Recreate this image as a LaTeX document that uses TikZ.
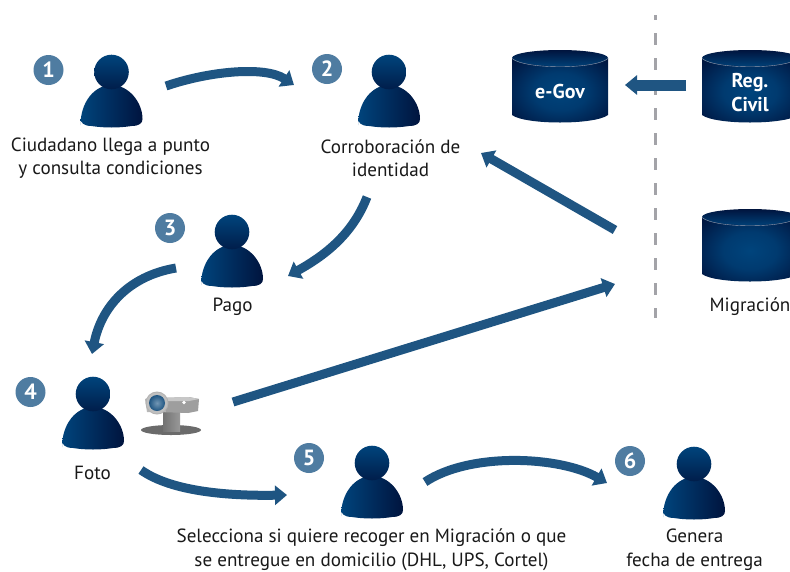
\documentclass[tikz,border=0pt]{standalone}
\usepackage{fontspec}
\setmainfont{PT Sans}
\usetikzlibrary{arrows.meta,shapes.geometric}
\definecolor{arrowblue}{HTML}{1F5582}
\definecolor{badge}{HTML}{4F7CA1}
\definecolor{navylight}{HTML}{00447C}
\definecolor{navymid}{HTML}{00305F}
\definecolor{navydark}{HTML}{00143E}
\definecolor{dashgray}{HTML}{A3A3A8}
\pgfdeclareradialshading{cylglow}{\pgfpoint{0bp}{0bp}}{color(0bp)=(navylight); color(14bp)=(navylight!80!navydark); color(34bp)=(navydark); color(50bp)=(navydark)}
\tikzset{
  flow/.style={draw=arrowblue,line width=9pt,-{Triangle[length=12pt,width=19pt]}},
  numbadge/.style={circle,fill=badge,text=white,minimum size=30pt,inner sep=0pt,font=\fontsize{22}{22}\selectfont\bfseries},
  label/.style={align=center,text=black!90,inner sep=0pt,font=\fontsize{19.1}{23.5}\selectfont},
  cyltext/.style={align=center,text=white,inner sep=0pt,font=\fontsize{20}{24}\selectfont\bfseries},
  anchorbox/.style={inner sep=0pt,minimum width=62pt,minimum height=70pt},
  person/.pic={
    \shade[left color=navylight,right color=navydark]
      (-31,53) .. controls (-31,30) and (-17,13) .. (0,13)
      .. controls (17,13) and (31,30) .. (31,47)
      .. controls (31,51) and (28,54) .. (20,54)
      .. controls (8,56) and (-8,56) .. (-20,54)
      .. controls (-28,54) and (-31,50) .. (-31,47) -- cycle;
    \shade[top color=navylight,bottom color=navydark!80!navylight] (0,0) circle (17.3);
  },
  database/.pic={
    \shade[shading=cylglow]
      (-48,7) -- (-48,64) .. controls (-35,74) and (35,74) .. (48,64) -- (48,7) -- cycle;
    \shade[top color=navydark,bottom color=navylight!90!navydark] (0,7) ellipse (48 and 8);
    \draw[white!60!navydark,line width=.4pt] (-48,7.5) .. controls (-35,18.5) and (35,18.5) .. (48,7.5);
  },
}
\begin{document}
\begin{tikzpicture}[x=1pt,y=-1pt]
\clip (0,0) rectangle (790,571);
\fill[white] (0,0) rectangle (790,571);

% dashed separator
\coordinate (sepA) at (655,15);
\coordinate (sepB) at (655,318);
\draw[dashgray,line width=3pt,dash pattern=on 12pt off 13pt,dash phase=6.7pt] (sepA) -- (sepB);

% people
\pic at (111.5,72) {person};
\pic at (389,72) {person};
\pic at (232,232) {person};
\pic at (93,394) {person};
\pic at (372,463) {person};
\pic at (694,464) {person};
\node[anchorbox] (p1) at (111.5,90) {};
\node[anchorbox] (p2) at (389,90) {};
\node[anchorbox] (p3) at (232,250) {};
\node[anchorbox] (p4) at (93,412) {};
\node[anchorbox] (p5) at (372,481) {};
\node[anchorbox] (p6) at (694,482) {};

% badges
\node[numbadge] (n1) at (48.5,70) {1};
\node[numbadge] (n2) at (327,69) {2};
\node[numbadge] (n3) at (170,228) {3};
\node[numbadge] (n4) at (30.5,392) {4};
\node[numbadge] (n5) at (309,458) {5};
\node[numbadge] (n6) at (630,461) {6};

% databases
\pic at (560,51) {database};
\pic at (750,51) {database};
\pic at (750,210) {database};
\node[cyltext] (egov) at (560,91.5) {e-Gov};
\node[cyltext] (reg) at (750,93) {Reg.\\Civil};
\node[inner sep=0pt,minimum width=96pt,minimum height=60pt] (mig) at (750,246) {};

% labels
\node[label] (l1) at (110.5,158) {Ciudadano llega a punto\\y consulta condiciones};
\node[label] (l2) at (390.5,158) {Corroboración de\\identidad};
\node[label] (l3) at (232.5,307) {Pago};
\node[label] (l4) at (92.5,473) {Foto};
\node[label] (l5) at (371.5,549.5) {Selecciona si quiere recoger en Migración o que\\se entregue en domicilio (DHL, UPS, Cortel)};
\node[label] (l6) at (694.5,549.5) {Genera\\fecha de entrega};
\node[label] (l7) at (750,307) {Migración};

% connector ends
\coordinate (a1s) at (166,86);  \coordinate (a1e) at (294,85);
\coordinate (a2s) at (367,197); \coordinate (a2e) at (288,276);
\coordinate (a3s) at (176,268); \coordinate (a3e) at (92,354);
\coordinate (a4s) at (233,402); \coordinate (a4e) at (615,284);
\coordinate (a5s) at (141,470); \coordinate (a5e) at (287,495);
\coordinate (a6s) at (425,482); \coordinate (a6e) at (607,483);
\coordinate (a7s) at (615,230); \coordinate (a7e) at (481,153);
\coordinate (a8s) at (686,85);  \coordinate (a8e) at (625,85);

\draw[flow] (a1s) .. controls (210,71) and (265,66) .. (a1e);
\draw[flow] (a2s) .. controls (352,236) and (322,257) .. (a2e);
\draw[flow] (a3s) .. controls (128,276) and (101,308) .. (a3e);
\draw[flow] (a4s) -- (a4e);
\draw[flow] (a5s) .. controls (172,492) and (230,496) .. (a5e);
\draw[flow] (a6s) .. controls (470,452) and (560,456) .. (a6e);
\draw[flow] (a7s) -- (a7e);
\draw[flow,line width=11pt] (a8s) -- (a8e);

% projector
\fill[black!58] (171,430) ellipse (30 and 5);
\shade[left color=black!55,right color=black!40] (163,412) rectangle (180,431);
\fill[black!38] (160,398) -- (189,397) -- (199,399) -- (198,411) -- (188,413) -- (158,412) -- cycle;
\fill[black!22] (160,398) -- (188,397) -- (199,399) -- (189,401) -- (165,401) -- cycle;
\fill[black!28] (145,399) -- (160,394) -- (166,412) -- (147,412) -- cycle;
\fill[black!30] (157,403) circle (11.5);
\fill[white!75!black] (157,403) circle (10.5);
\shade[inner color=badge!80!white,outer color=arrowblue] (157,403) circle (8);
\fill[white] (184,402.5) circle (1.8);
\end{tikzpicture}
\end{document}
